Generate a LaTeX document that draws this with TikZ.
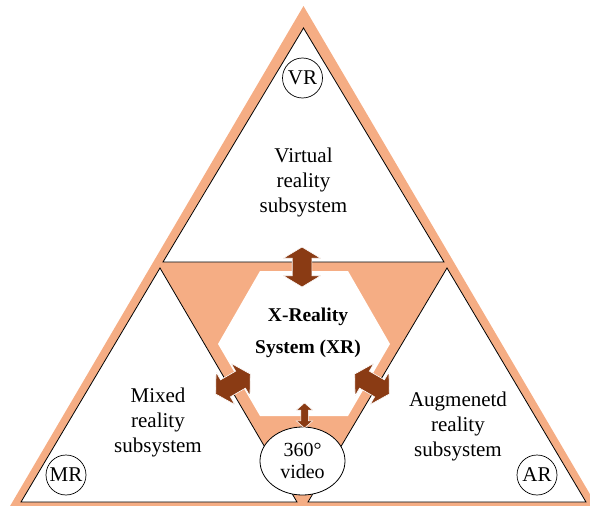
\documentclass[tikz,border=0pt]{standalone}
\usepackage{fontspec}
\setmainfont{Liberation Serif}
\usetikzlibrary{shapes.geometric,shapes.arrows}
\definecolor{salmon}{HTML}{F5AD84}
\definecolor{arrowbrown}{HTML}{8A3B14}
\begin{document}
\begin{tikzpicture}[x=1pt,y=-1pt,
  panel/.style={draw=black,line width=0.8pt,fill=white},
  tag/.style={circle,draw=black,line width=0.7pt,fill=white,minimum size=40pt,
    inner sep=0pt,font=\fontsize{21}{25}\selectfont},
  sublabel/.style={align=center,font=\fontsize{21}{25}\selectfont},
  bigarrow/.style={double arrow,fill=arrowbrown,draw=white,line width=0.6pt,
    inner xsep=0pt,inner ysep=9.5pt,minimum height=40pt,minimum width=37pt,
    double arrow head extend=9pt,double arrow tip angle=118},
  smallarrow/.style={double arrow,fill=arrowbrown,draw=white,line width=0.5pt,
    inner xsep=0pt,inner ysep=3.5pt,minimum height=25pt,minimum width=16pt,
    double arrow head extend=4.5pt,double arrow tip angle=98},
]
\useasboundingbox (0,0) rectangle (590,506);

% salmon frame behind everything
\begin{scope}
  \clip (0,0) rectangle (590,506);
  \fill[salmon] (303.5,6) -- (-4,530) -- (611,530) -- cycle;
\end{scope}

% the three subsystem triangles
\draw[panel] (303.5,28) -- (444,262) -- (163,262) -- cycle;
\draw[panel] (160,268) -- (297,502) -- (21,502) -- cycle;
\draw[panel] (447,268) -- (586,502) -- (308,502) -- cycle;

% central XR hexagon
\fill[white] (260,271) -- (348,271) -- (390,344) -- (348,416)
  -- (260,416) -- (218,344) -- cycle;

% 360 video
\node[ellipse,draw=black,line width=0.8pt,fill=white,minimum width=85pt,
  minimum height=68pt,inner sep=0pt,align=center,
  font=\fontsize{20}{22.3}\selectfont] (vid) at (302.5,461) {360°\\video};

% links between the subsystems and the core
\node[bigarrow,rotate=90] (avr) at (302,267) {};
\node[bigarrow,rotate=30] (amr) at (233,384) {};
\node[bigarrow,rotate=-30] (aar) at (372,384) {};
\node[smallarrow,rotate=90] (avid) at (304.5,415.5) {};

% corner tags
\node[tag] (vr) at (302.5,78) {VR};
\node[tag] (mr) at (66,475) {MR};
\node[tag] (ar) at (537,475) {AR};

% texts
\node[sublabel] (vrtext) at (303.5,182) {Virtual\\reality\\subsystem};
\node[sublabel] (mrtext) at (158,422) {Mixed\\reality\\subsystem};
\node[sublabel] (artext) at (458,426) {Augmenetd\\reality\\subsystem};
\node[align=center,font=\bfseries\fontsize{19.5}{31.5}\selectfont] (xr)
  at (308,333) {X-Reality\\System (XR)};
\end{tikzpicture}
\end{document}
